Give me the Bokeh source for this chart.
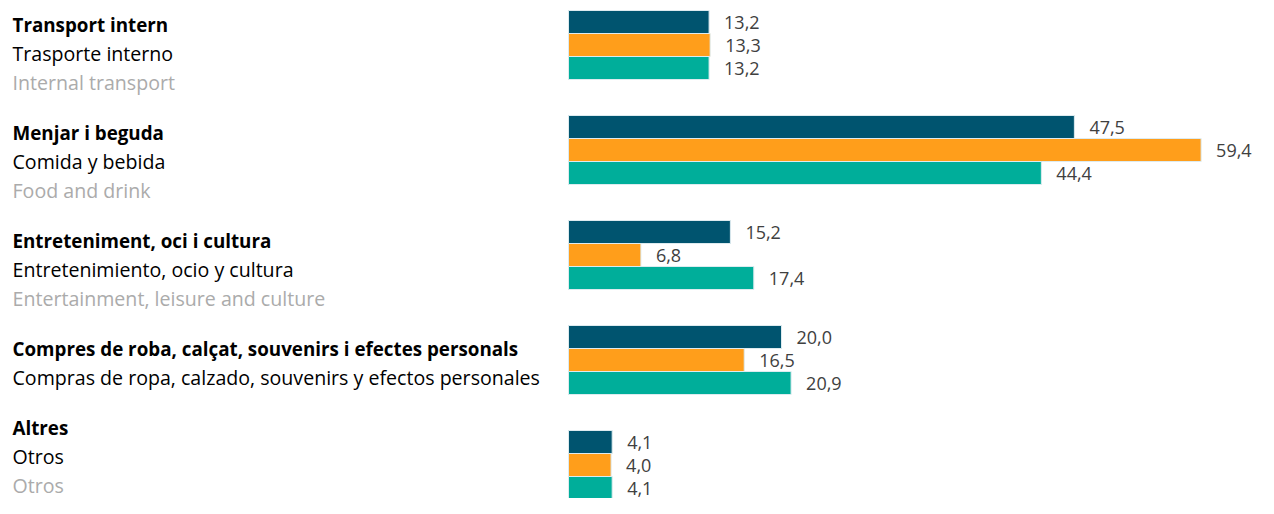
from bokeh.plotting import figure
from bokeh.models import Range1d, ColumnDataSource
from bokeh.core.properties import value
from bokeh.embed import file_html
from bokeh.resources import INLINE

# ---- data ----
cat_ca = ["Transport intern", "Menjar i beguda", "Entreteniment, oci i cultura",
          "Compres de roba, calçat, souvenirs i efectes personals", "Altres"]
cat_es = ["Trasporte interno", "Comida y bebida", "Entretenimiento, ocio y cultura",
          "Compras de ropa, calzado, souvenirs y efectos personales", "Otros"]
cat_en = ["Internal transport", "Food and drink", "Entertainment, leisure and culture",
          "", "Otros"]
series_a = [13.2, 47.5, 15.2, 20.0, 4.1]
series_b = [13.3, 59.4, 6.8, 16.5, 4.0]
series_c = [13.2, 44.4, 17.4, 20.9, 4.1]
colors = ["#00546F", "#FF9E1B", "#00AE9A"]

# ---- layout ----
W, H = 1258, 498
X0 = 568.0          # pixel of value 0
SCALE = 10.65       # pixels per unit
GROUP = 105.0       # pixels between groups
BAR = 23.0
TOP = 10.0

p = figure(width=W, height=H, output_backend="svg", toolbar_location=None,
           x_range=Range1d(-X0 / SCALE, (W - X0) / SCALE),
           y_range=Range1d(H, 0), min_border=0)
p.axis.visible = False
p.grid.visible = False
p.outline_line_color = None
p.background_fill_color = "white"
p.border_fill_color = "white"

series = [series_a, series_b, series_c]
for s, vals in enumerate(series):
    ys = [TOP + GROUP * g + BAR / 2 + BAR * s for g in range(len(vals))]
    labels = [f"{v:.1f}".replace(".", ",") for v in vals]
    src = ColumnDataSource(dict(y=ys, v=vals, lab=labels))
    p.hbar(y="y", left=0, right="v", height=BAR, source=src,
           fill_color=colors[s], line_color="#DDEBEF", line_width=1)
    p.text(x="v", y="y", text="lab", source=src, x_offset=15,
           text_baseline="middle", text_align="left",
           text_font=value("Open Sans"), text_font_size="18px",
           text_color="#404040")

# left labels: sequential text lines
LINE = 29.0
GAP = 50.0
xl = (12 - X0) / SCALE
y = 24.0
rows = []
for g in range(len(cat_ca)):
    lines = [(cat_ca[g], "bold", "#000000"), (cat_es[g], "normal", "#000000")]
    if cat_en[g]:
        lines.append((cat_en[g], "normal", "#ABABAB"))
    for i, (t, st, c) in enumerate(lines):
        rows.append((y + LINE * i, t, st, c))
    y += LINE * (len(lines) - 1) + GAP

for st, fs in (("bold", "18.8px"), ("normal", "19.6px")):
    for c in ("#000000", "#ABABAB"):
        sel = [r for r in rows if r[2] == st and r[3] == c]
        if not sel:
            continue
        src = ColumnDataSource(dict(y=[r[0] for r in sel], t=[r[1] for r in sel],
                                    x=[xl] * len(sel)))
        p.text(x="x", y="y", text="t", source=src, text_baseline="middle",
               text_align="left", text_font=value("Open Sans"),
               text_font_size=fs, text_font_style=st, text_color=c)

open("out.html", "w").write(file_html(p, INLINE))
